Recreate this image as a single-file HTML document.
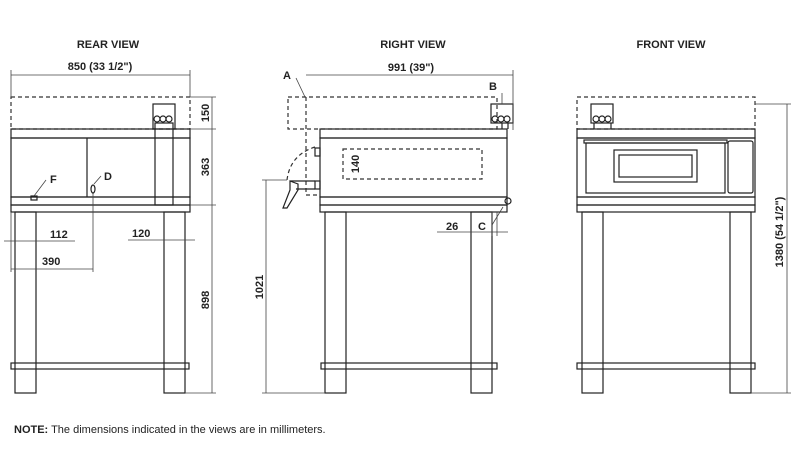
<!DOCTYPE html>
<html><head><style>
body{margin:0;background:#fff;}
svg{display:block;font-family:"Liberation Sans",Arial,sans-serif;}
.t{font-weight:bold;font-size:11px;fill:#222;}
.l{fill:none;stroke:#222;stroke-width:1.2;}
.d{fill:none;stroke:#333;stroke-width:1.2;stroke-dasharray:4,3;}
.m{fill:none;stroke:#444;stroke-width:0.8;}
</style></head><body>
<svg width="800" height="456" viewBox="0 0 800 456">
<text class="t" x="108" y="48" text-anchor="middle">REAR VIEW</text>
<text class="t" x="413" y="48" text-anchor="middle">RIGHT VIEW</text>
<text class="t" x="671" y="48" text-anchor="middle">FRONT VIEW</text>

<!-- REAR VIEW -->
<rect class="d" x="11" y="97" width="179" height="32"/>
<rect class="l" x="11" y="129" width="179" height="9"/>
<rect class="l" x="11" y="138" width="179" height="59"/>
<line class="l" x1="87" y1="138" x2="87" y2="197"/>
<rect class="l" x="11" y="197" width="179" height="8"/>
<rect class="l" x="11" y="205" width="179" height="7"/>
<rect class="l" x="153" y="104" width="22" height="25" fill="#fff"/>
<rect class="l" x="155" y="123" width="18" height="82" fill="#fff"/>
<circle class="l" cx="157" cy="119" r="3" fill="#fff"/><circle class="l" cx="163" cy="119" r="3" fill="#fff"/><circle class="l" cx="169" cy="119" r="3" fill="#fff"/>
<rect class="l" x="31" y="196" width="6" height="4"/>
<ellipse class="l" cx="93" cy="189" rx="2" ry="4"/>
<line class="m" x1="34" y1="196" x2="46" y2="180"/>
<line class="m" x1="94" y1="184" x2="101" y2="176"/>
<text class="t" x="50" y="183">F</text>
<text class="t" x="104" y="180">D</text>
<rect class="l" x="15" y="212" width="21" height="181"/>
<rect class="l" x="164" y="212" width="21" height="181"/>
<rect class="l" x="11" y="363" width="178" height="6" fill="#fff"/>
<line class="m" x1="11" y1="75" x2="190" y2="75"/>
<line class="m" x1="11" y1="70" x2="11" y2="97"/><line class="m" x1="190" y1="70" x2="190" y2="97"/>
<text class="t" x="100" y="70" text-anchor="middle">850 (33 1/2")</text>
<line class="m" x1="212" y1="97" x2="212" y2="393"/>
<line class="m" x1="190" y1="97" x2="216" y2="97"/><line class="m" x1="190" y1="129" x2="216" y2="129"/><line class="m" x1="190" y1="205" x2="216" y2="205"/><line class="m" x1="185" y1="393" x2="216" y2="393"/>
<text class="t" transform="translate(209,113) rotate(-90)" text-anchor="middle">150</text>
<text class="t" transform="translate(209,167) rotate(-90)" text-anchor="middle">363</text>
<text class="t" transform="translate(209,300) rotate(-90)" text-anchor="middle">898</text>
<line class="m" x1="4" y1="241" x2="75" y2="241"/>
<text class="t" x="50" y="238">112</text>
<line class="m" x1="128" y1="240" x2="195" y2="240"/>
<text class="t" x="132" y="237">120</text>
<line class="m" x1="11" y1="269" x2="93" y2="269"/>
<line class="m" x1="11" y1="212" x2="11" y2="272"/><line class="m" x1="93" y1="193" x2="93" y2="272"/>
<text class="t" x="42" y="265">390</text>

<!-- RIGHT VIEW -->
<rect class="d" x="288" y="97" width="209" height="32"/>
<line class="d" x1="306" y1="97" x2="306" y2="195"/>
<line class="d" x1="306" y1="195" x2="320" y2="195"/>
<rect class="l" x="320" y="129" width="187" height="9" fill="#fff"/>
<rect class="l" x="320" y="138" width="187" height="59"/>
<rect class="l" x="320" y="197" width="187" height="8"/>
<rect class="l" x="320" y="205" width="187" height="7"/>
<rect class="d" x="343" y="149" width="139" height="30"/>
<rect class="l" x="491" y="104" width="22" height="19" fill="#fff"/>
<circle class="l" cx="495" cy="119" r="3"/><circle class="l" cx="501" cy="119" r="3"/><circle class="l" cx="507" cy="119" r="3"/>
<line class="l" x1="502" y1="123" x2="502" y2="129"/><line class="l" x1="508" y1="123" x2="508" y2="129"/>
<circle class="l" cx="508" cy="201" r="3"/>
<path class="d" d="M315,147 Q290,155 287,180"/>
<rect class="l" x="315" y="148" width="5" height="8"/>
<rect class="l" x="315" y="181" width="5" height="8"/>
<line class="l" x1="290" y1="181" x2="315" y2="181"/><line class="l" x1="296" y1="189" x2="315" y2="189"/>
<path class="l" d="M290,181 L298,184 L298,190 L287,208 L283,208 L290,190 Z" fill="#fff"/>
<rect class="l" x="325" y="212" width="21" height="181"/>
<rect class="l" x="471" y="212" width="21" height="181"/>
<rect class="l" x="321" y="363" width="176" height="6" fill="#fff"/>
<line class="m" x1="306" y1="75" x2="513" y2="75"/>
<line class="m" x1="513" y1="70" x2="513" y2="130"/>
<text class="t" x="411" y="71" text-anchor="middle">991 (39")</text>
<text class="t" x="283" y="79">A</text>
<line class="m" x1="296" y1="78" x2="305" y2="97"/>
<text class="t" x="489" y="90">B</text>
<line class="m" x1="502" y1="93" x2="502" y2="104"/>
<text class="t" x="143" y="140" text-anchor="middle" transform="translate(220,308) rotate(-90) translate(-143,-140)" style="display:none">x</text>
<text class="t" transform="translate(359,164) rotate(-90)" text-anchor="middle">140</text>
<line class="m" x1="266" y1="180" x2="266" y2="393"/>
<line class="m" x1="262" y1="180" x2="287" y2="180"/><line class="m" x1="262" y1="393" x2="325" y2="393"/>
<text class="t" transform="translate(263,287) rotate(-90)" text-anchor="middle">1021</text>
<line class="m" x1="437" y1="232" x2="508" y2="232"/>
<line class="m" x1="492" y1="212" x2="492" y2="236"/><line class="m" x1="497" y1="212" x2="497" y2="236"/>
<line class="m" x1="492" y1="225" x2="503" y2="207"/>
<text class="t" x="446" y="230">26</text>
<text class="t" x="478" y="230">C</text>

<!-- FRONT VIEW -->
<rect class="d" x="577" y="97" width="178" height="32"/>
<rect class="l" x="591" y="104" width="22" height="19" fill="#fff"/>
<circle class="l" cx="596" cy="119" r="3"/><circle class="l" cx="602" cy="119" r="3"/><circle class="l" cx="608" cy="119" r="3"/>
<line class="l" x1="594" y1="123" x2="594" y2="129"/><line class="l" x1="611" y1="123" x2="611" y2="129"/>
<rect class="l" x="577" y="129" width="178" height="9"/>
<rect class="l" x="577" y="138" width="178" height="59"/>
<rect class="l" x="584" y="140" width="143" height="3"/>
<rect class="l" x="586" y="143" width="139" height="50"/>
<rect class="l" x="614" y="150" width="83" height="32"/>
<rect class="l" x="619" y="155" width="73" height="22"/>
<rect class="l" x="728" y="141" width="25" height="52" rx="2"/>
<rect class="l" x="577" y="197" width="178" height="8"/>
<rect class="l" x="577" y="205" width="178" height="7"/>
<rect class="l" x="582" y="212" width="21" height="181"/>
<rect class="l" x="730" y="212" width="21" height="181"/>
<rect class="l" x="577" y="363" width="178" height="6" fill="#fff"/>
<line class="m" x1="787" y1="104" x2="787" y2="393"/>
<line class="m" x1="755" y1="104" x2="791" y2="104"/><line class="m" x1="751" y1="393" x2="791" y2="393"/>
<text class="t" transform="translate(783,232) rotate(-90)" text-anchor="middle">1380 (54 1/2")</text>

<text x="14" y="433" style="font-size:11px;fill:#222"><tspan font-weight="bold">NOTE:</tspan> The dimensions indicated in the views are in millimeters.</text>
</svg>
</body></html>
